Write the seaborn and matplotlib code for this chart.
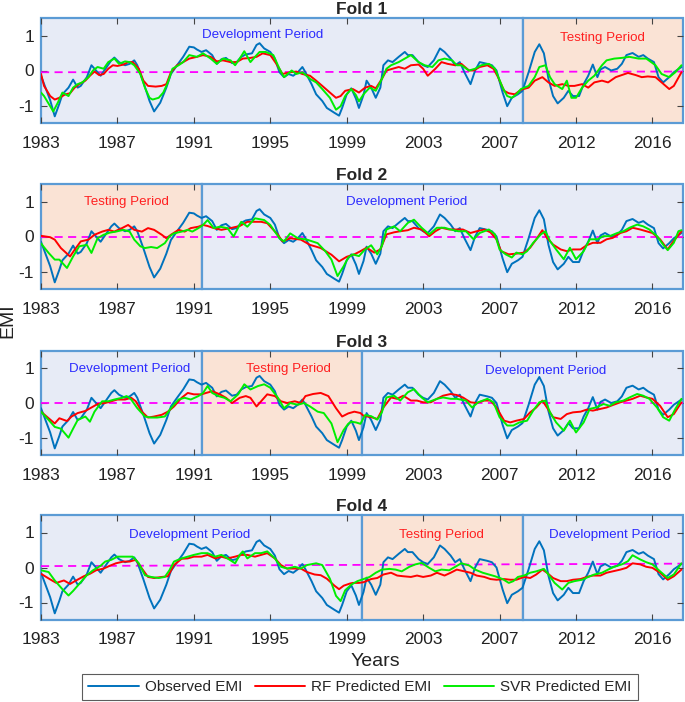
import matplotlib
matplotlib.use("Agg")
import matplotlib.pyplot as plt
from matplotlib.patches import Rectangle
from matplotlib.lines import Line2D
import pandas as pd
import seaborn as sns

sns.set_theme(style="white")
plt.rcParams['font.family'] = ['Liberation Sans', 'DejaVu Sans']

# month index (0 = Jan 1983), tick labels as printed on the chart
tick_months = [0, 50, 100, 150, 200, 250, 300, 350, 400]
tick_labels = ['1983', '1987', '1991', '1995', '1999', '2003', '2007', '2012', '2016']

# observed EMI (same in every fold): (month, value)
observed = [(0, -0.15), (3, -0.5), (6, -0.85), (9, -1.31), (12, -0.95), (14, -0.68), (18, -0.49), (21, -0.26),
            (24, -0.49), (26, -0.44), (30, -0.19), (33, 0.15), (36, 0.0), (39, -0.15), (43, 0.1), (46, 0.29),
            (48, 0.37), (51, 0.24), (55, 0.15), (58, 0.19), (61, 0.29), (63, 0.15), (67, -0.34), (71, -0.87),
            (74, -1.17), (78, -0.92), (82, -0.49), (85, -0.1), (89, 0.15), (93, 0.39), (97, 0.68), (100, 0.66),
            (102, 0.6), (105, 0.53), (108, 0.58), (112, 0.44), (115, 0.19), (118, 0.32), (121, 0.36), (125, 0.21),
            (128, 0.24), (131, 0.39), (134, 0.46), (138, 0.49), (141, 0.73), (143, 0.78), (146, 0.63), (150, 0.53),
            (153, 0.34), (156, -0.05), (159, -0.19), (162, -0.1), (165, -0.15), (168, -0.05), (171, 0.1),
            (173, -0.05), (177, -0.39), (180, -0.68), (184, -0.87), (187, -1.07), (192, -1.21), (195, -1.29),
            (197, -1.07), (200, -0.68), (203, -0.51), (206, -0.8), (208, -1.07), (211, -0.7), (213, -0.29),
            (216, -0.49), (219, -0.78), (222, -0.49), (224, 0.15), (227, 0.29), (230, 0.24), (234, 0.39),
            (238, 0.53), (240, 0.44), (243, 0.44), (247, 0.24), (250, 0.15), (253, 0.1), (257, 0.29), (261, 0.63),
            (264, 0.53), (268, 0.34), (271, 0.15), (274, 0.24), (277, -0.05), (281, -0.39), (284, 0.0), (287, 0.24),
            (292, 0.19), (295, 0.15), (298, 0.0), (302, -0.63), (305, -1.02), (308, -0.78), (312, -0.68),
            (315, -0.58), (319, -0.05), (323, 0.53), (326, 0.75), (329, 0.49), (332, -0.24), (335, -0.73),
            (338, -0.94), (342, -0.78), (345, -0.58), (348, -0.73), (352, -0.73), (355, -0.39), (358, -0.15),
            (361, 0.17), (364, -0.19), (366, 0.03), (369, 0.1), (373, 0.0), (377, 0.05), (380, 0.19), (383, 0.44),
            (387, 0.5), (391, 0.39), (394, 0.44), (397, 0.34), (401, 0.24), (404, -0.19), (407, -0.34),
            (411, -0.19), (414, -0.05), (419, 0.1)]

# fold 1
f1_rf = [(0, -0.1), (2, -0.44), (6, -0.73), (9, -0.83), (12, -0.78), (16, -0.68), (19, -0.65), (22, -0.49),
         (25, -0.39), (29, -0.29), (32, -0.15), (35, -0.03), (38, -0.13), (41, -0.1), (44, 0.05), (47, 0.15),
         (50, 0.13), (54, 0.17), (57, 0.24), (60, 0.24), (64, 0.05), (67, -0.29), (70, -0.44), (75, -0.46),
         (79, -0.44), (82, -0.39), (85, -0.05), (89, 0.15), (93, 0.24), (97, 0.34), (102, 0.39), (106, 0.44),
         (111, 0.39), (115, 0.26), (119, 0.29), (124, 0.24), (128, 0.24), (132, 0.34), (137, 0.36), (141, 0.39),
         (145, 0.49), (150, 0.44), (154, 0.19), (158, -0.1), (163, -0.05), (167, -0.03), (171, -0.1),
         (176, -0.15), (180, -0.29), (184, -0.44), (189, -0.63), (193, -0.78), (196, -0.73), (199, -0.58),
         (204, -0.53), (208, -0.63), (212, -0.49), (216, -0.44), (219, -0.51), (223, -0.24), (226, 0.0),
         (230, 0.05), (234, 0.1), (238, 0.05), (242, 0.15), (247, 0.17), (250, 0.05), (253, -0.15), (258, 0.05),
         (262, 0.24), (266, 0.19), (271, 0.15), (275, 0.19), (280, 0.0), (283, 0.0), (287, 0.1), (292, 0.15),
         (296, 0.05), (299, -0.19), (303, -0.58), (306, -0.65), (310, -0.68), (314, -0.55), (319, -0.49),
         (323, -0.29), (328, -0.19), (332, -0.34), (336, -0.44), (341, -0.39), (345, -0.44), (349, -0.44),
         (354, -0.39), (358, -0.49), (362, -0.34), (367, -0.29), (371, -0.34), (376, -0.19), (380, -0.13),
         (384, -0.07), (389, -0.13), (393, -0.19), (397, -0.17), (402, -0.19), (406, -0.34), (411, -0.53),
         (414, -0.44), (419, -0.05)]
f1_svr = [(0, -0.63), (2, -0.73), (6, -1.02), (8, -1.17), (11, -0.92), (14, -0.63), (18, -0.73), (21, -0.49),
          (24, -0.39), (27, -0.34), (31, -0.19), (34, 0.0), (37, 0.1), (41, 0.05), (44, 0.24), (48, 0.34),
          (51, 0.19), (55, 0.26), (58, 0.24), (61, 0.15), (65, -0.1), (68, -0.49), (71, -0.78), (73, -0.83),
          (77, -0.78), (80, -0.63), (83, -0.34), (86, 0.05), (90, 0.15), (93, 0.24), (97, 0.44), (102, 0.39),
          (106, 0.49), (111, 0.34), (115, 0.19), (119, 0.34), (124, 0.29), (127, 0.15), (130, 0.34), (133, 0.55),
          (137, 0.24), (140, 0.39), (143, 0.53), (147, 0.53), (152, 0.44), (156, 0.05), (159, -0.19), (164, 0.0),
          (167, -0.1), (171, -0.05), (176, -0.24), (180, -0.34), (184, -0.53), (189, -0.78), (193, -1.12),
          (196, -1.02), (199, -0.73), (203, -0.53), (206, -0.7), (208, -0.88), (211, -0.68), (215, -0.49),
          (219, -0.58), (223, -0.24), (226, 0.05), (229, 0.15), (234, 0.24), (238, 0.34), (242, 0.44),
          (247, 0.24), (251, 0.15), (256, 0.1), (260, 0.29), (264, 0.34), (269, 0.29), (272, 0.15), (275, 0.15),
          (280, 0.0), (284, 0.05), (288, 0.15), (293, 0.19), (297, 0.05), (302, -0.49), (305, -0.73),
          (308, -0.78), (311, -0.68), (314, -0.53), (319, -0.44), (323, -0.19), (326, 0.1), (330, 0.15),
          (333, -0.19), (336, -0.39), (341, -0.53), (344, -0.29), (347, -0.78), (350, -0.78), (354, -0.49),
          (358, -0.29), (362, -0.15), (367, 0.15), (370, 0.29), (375, 0.34), (380, 0.36), (385, 0.39),
          (391, 0.34), (396, 0.34), (402, 0.15), (406, -0.1), (411, -0.19), (415, -0.05), (419, 0.15)]

# fold 2
f2_rf = [(0, 0.02), (6, -0.02), (9, -0.09), (13, -0.33), (19, -0.57), (22, -0.38), (26, -0.14), (31, -0.09),
         (35, 0.05), (40, 0.14), (44, 0.19), (48, 0.14), (53, 0.24), (57, 0.33), (61, 0.19), (66, 0.14),
         (70, 0.24), (74, 0.19), (79, 0.05), (82, -0.05), (85, 0.05), (90, 0.19), (94, 0.14), (98, 0.24),
         (103, 0.28), (106, 0.33), (109, 0.3), (113, 0.24), (118, 0.19), (124, 0.24), (130, 0.3), (135, 0.42),
         (144, 0.42), (148, 0.38), (155, 0.05), (158, -0.14), (163, -0.05), (170, -0.09), (176, -0.24),
         (183, -0.33), (190, -0.52), (195, -0.71), (200, -0.58), (205, -0.51), (209, -0.42), (213, -0.32),
         (218, -0.46), (222, -0.37), (226, 0.06), (231, 0.12), (235, 0.15), (240, 0.18), (244, 0.25), (249, 0.2),
         (254, 0.01), (258, 0.15), (262, 0.25), (267, 0.2), (271, 0.2), (276, 0.2), (281, 0.1), (285, 0.15),
         (290, 0.2), (294, 0.12), (298, -0.08), (301, -0.42), (306, -0.51), (311, -0.49), (316, -0.46),
         (320, -0.32), (324, -0.08), (328, 0.18), (331, -0.04), (335, -0.23), (340, -0.37), (344, -0.42),
         (348, -0.37), (353, -0.37), (357, -0.25), (361, -0.18), (366, -0.18), (370, -0.08), (374, -0.04),
         (379, 0.1), (383, 0.15), (387, 0.25), (392, 0.2), (396, 0.15), (400, 0.1), (405, -0.08), (410, -0.37),
         (413, -0.18), (419, 0.15)]
f2_svr = [(0, -0.2), (5, -0.47), (9, -0.66), (12, -0.66), (17, -0.9), (21, -0.57), (25, -0.28), (30, -0.24),
          (33, -0.47), (37, -0.05), (41, 0.05), (45, 0.11), (49, 0.14), (54, 0.19), (58, 0.14), (61, -0.09),
          (65, -0.28), (68, -0.33), (72, -0.3), (76, -0.33), (81, -0.19), (84, 0.0), (87, 0.09), (92, 0.14),
          (96, 0.19), (99, 0.14), (103, 0.24), (106, 0.33), (109, 0.47), (113, 0.24), (117, 0.28), (122, 0.24),
          (126, 0.0), (131, 0.42), (135, 0.28), (140, 0.52), (146, 0.47), (150, 0.33), (156, -0.05),
          (159, -0.14), (163, 0.09), (168, -0.05), (174, -0.09), (181, -0.19), (186, -0.42), (190, -0.66),
          (194, -1.13), (198, -0.85), (201, -0.6), (204, -0.51), (208, -0.56), (212, -0.37), (216, -0.25),
          (220, -0.51), (223, -0.27), (226, 0.2), (231, 0.29), (235, 0.15), (240, 0.39), (244, 0.48), (249, 0.25),
          (254, 0.06), (259, 0.25), (264, 0.25), (268, 0.2), (273, 0.15), (278, 0.15), (283, -0.08), (287, 0.1),
          (293, 0.2), (297, 0.06), (300, -0.37), (304, -0.51), (308, -0.6), (311, -0.46), (315, -0.51),
          (318, -0.42), (322, -0.18), (327, 0.06), (330, 0.15), (333, -0.13), (337, -0.37), (342, -0.65),
          (346, -0.32), (350, -0.65), (355, -0.42), (359, -0.08), (364, -0.08), (368, 0.01), (372, 0.01),
          (377, 0.1), (381, 0.15), (385, 0.25), (390, 0.34), (394, 0.29), (398, 0.2), (403, 0.01), (407, -0.23),
          (410, -0.39), (414, -0.18), (417, 0.15), (419, 0.18)]

# fold 3
f3_rf = [(0, -0.25), (5, -0.44), (9, -0.59), (12, -0.44), (17, -0.52), (20, -0.39), (24, -0.29), (29, -0.23),
         (33, -0.13), (37, -0.03), (42, 0.0), (46, 0.05), (50, 0.1), (55, 0.1), (59, 0.15), (62, 0.05),
         (66, -0.25), (70, -0.42), (74, -0.39), (79, -0.34), (83, -0.25), (87, -0.1), (92, 0.15), (96, 0.29),
         (100, 0.25), (105, 0.25), (108, 0.29), (112, 0.34), (117, 0.25), (121, 0.15), (125, 0.0), (130, 0.15),
         (134, 0.2), (137, 0.15), (141, -0.1), (144, 0.05), (148, 0.25), (153, 0.2), (157, 0.05), (161, 0.0),
         (166, 0.05), (170, 0.0), (173, 0.2), (178, 0.26), (183, 0.29), (188, 0.2), (193, -0.15), (197, -0.39),
         (201, -0.3), (205, -0.25), (209, -0.29), (211, -0.37), (216, -0.41), (220, -0.46), (224, -0.13),
         (229, 0.16), (233, 0.12), (237, 0.21), (242, 0.07), (246, 0.07), (250, 0.02), (255, 0.02), (259, 0.12),
         (263, 0.21), (268, 0.26), (272, 0.23), (276, 0.16), (281, 0.02), (285, 0.0), (290, 0.07), (294, 0.07),
         (298, -0.13), (303, -0.51), (307, -0.56), (311, -0.51), (316, -0.46), (320, -0.27), (324, -0.13),
         (328, 0.07), (331, -0.13), (335, -0.41), (340, -0.46), (344, -0.32), (348, -0.27), (353, -0.25),
         (357, -0.19), (361, -0.22), (366, -0.17), (370, -0.13), (374, -0.06), (379, 0.02), (383, 0.07),
         (387, 0.12), (392, 0.21), (396, 0.16), (400, 0.12), (405, -0.08), (410, -0.41), (414, -0.32),
         (419, 0.02)]
f3_svr = [(0, -0.25), (5, -0.49), (9, -0.69), (13, -0.74), (18, -1.0), (21, -0.74), (24, -0.49), (29, -0.39),
          (32, -0.54), (35, -0.25), (40, 0.05), (44, 0.05), (48, 0.1), (53, 0.15), (56, 0.2), (59, 0.1),
          (63, -0.15), (68, -0.39), (72, -0.42), (76, -0.42), (81, -0.39), (85, -0.15), (90, 0.1), (94, 0.15),
          (98, 0.1), (103, 0.2), (106, 0.29), (109, 0.49), (112, 0.29), (116, 0.2), (120, 0.15), (124, 0.05),
          (129, 0.25), (133, 0.54), (137, 0.39), (142, 0.49), (146, 0.54), (150, 0.44), (155, 0.15), (159, -0.15),
          (163, 0.0), (168, -0.05), (172, 0.0), (176, -0.1), (181, -0.25), (185, -0.29), (190, -0.59),
          (194, -1.13), (198, -0.78), (201, -0.6), (203, -0.54), (206, -0.56), (209, -0.6), (212, -0.35),
          (216, -0.38), (220, -0.48), (223, -0.27), (226, 0.16), (231, 0.21), (235, 0.07), (240, 0.31), (244, 0.4),
          (249, 0.16), (253, 0.02), (259, 0.12), (263, 0.16), (268, 0.12), (272, 0.12), (278, 0.07), (282, -0.13),
          (286, 0.02), (292, 0.12), (296, 0.02), (300, -0.41), (305, -0.65), (309, -0.65), (313, -0.56),
          (318, -0.51), (322, -0.22), (326, 0.02), (330, 0.07), (333, -0.27), (337, -0.56), (342, -0.8),
          (346, -0.51), (350, -0.85), (355, -0.56), (359, -0.17), (363, -0.13), (368, -0.03), (372, -0.08),
          (376, 0.02), (381, 0.07), (385, 0.16), (390, 0.26), (394, 0.21), (398, 0.12), (403, -0.13),
          (407, -0.41), (411, -0.51), (415, -0.17), (419, 0.12)]

# fold 4
f4_rf = [(0, -0.18), (6, -0.34), (10, -0.44), (15, -0.37), (19, -0.47), (23, -0.37), (28, -0.25), (32, -0.18),
         (36, -0.08), (41, -0.03), (45, 0.05), (49, 0.12), (54, 0.17), (58, 0.17), (62, 0.22), (66, -0.03),
         (70, -0.27), (74, -0.3), (79, -0.27), (83, -0.25), (87, 0.07), (92, 0.25), (96, 0.26), (100, 0.31),
         (105, 0.31), (109, 0.36), (114, 0.26), (118, 0.31), (122, 0.26), (127, 0.31), (131, 0.36), (135, 0.36),
         (140, 0.31), (144, 0.36), (148, 0.41), (153, 0.26), (157, 0.07), (161, -0.03), (166, -0.03),
         (170, -0.03), (174, -0.13), (179, -0.2), (183, -0.22), (187, -0.32), (192, -0.52), (195, -0.62),
         (198, -0.52), (202, -0.46), (204, -0.44), (208, -0.44), (211, -0.42), (216, -0.33), (220, -0.3),
         (224, -0.2), (229, -0.15), (233, -0.23), (237, -0.25), (242, -0.27), (246, -0.23), (250, -0.27),
         (255, -0.23), (259, -0.15), (264, -0.23), (268, -0.15), (272, -0.06), (277, -0.11), (281, -0.15),
         (285, -0.23), (290, -0.27), (294, -0.33), (298, -0.35), (303, -0.33), (307, -0.35), (311, -0.35),
         (316, -0.27), (320, -0.3), (324, -0.2), (328, -0.06), (331, -0.15), (335, -0.3), (340, -0.39),
         (344, -0.39), (348, -0.35), (353, -0.33), (357, -0.27), (361, -0.23), (366, -0.23), (370, -0.15),
         (374, -0.11), (379, -0.06), (383, -0.01), (387, 0.12), (392, 0.09), (396, 0.02), (400, -0.01),
         (405, -0.15), (410, -0.35), (414, -0.25), (419, -0.06)]
f4_svr = [(0, -0.08), (5, -0.13), (9, -0.37), (14, -0.62), (18, -0.8), (21, -0.67), (25, -0.47), (30, -0.22),
          (34, -0.08), (39, 0.05), (42, 0.17), (46, 0.22), (50, 0.31), (56, 0.31), (60, 0.31), (64, 0.12),
          (68, -0.22), (72, -0.27), (77, -0.3), (81, -0.27), (84, -0.08), (87, 0.17), (92, 0.26), (96, 0.31),
          (100, 0.36), (105, 0.41), (109, 0.41), (114, 0.31), (118, 0.36), (122, 0.26), (127, 0.12), (130, 0.36),
          (132, 0.46), (135, 0.26), (140, 0.41), (144, 0.41), (148, 0.46), (153, 0.26), (157, 0.02), (161, -0.03),
          (166, 0.02), (170, -0.03), (174, 0.07), (180, 0.12), (184, 0.07), (189, -0.32), (193, -0.81),
          (196, -0.96), (199, -0.65), (203, -0.49), (207, -0.39), (211, -0.33), (215, -0.27), (219, -0.15),
          (223, -0.06), (228, -0.04), (232, -0.06), (236, -0.11), (241, 0.02), (245, 0.09), (249, 0.13),
          (254, -0.01), (258, -0.11), (262, -0.06), (267, -0.08), (271, 0.02), (275, 0.12), (280, 0.06),
          (284, -0.06), (289, -0.15), (293, -0.2), (297, -0.25), (302, -0.33), (306, -0.44), (309, -0.39),
          (312, -0.27), (316, -0.23), (320, -0.15), (324, -0.11), (329, -0.04), (332, -0.2), (336, -0.44),
          (341, -0.63), (345, -0.44), (349, -0.39), (354, -0.35), (358, -0.27), (362, -0.2), (367, -0.15),
          (371, -0.06), (375, 0.02), (380, 0.09), (384, 0.18), (387, 0.35), (392, 0.23), (396, 0.15), (400, 0.09),
          (405, -0.11), (410, -0.3), (414, -0.2), (419, 0.12)]

fold_titles = ['Fold 1', 'Fold 2', 'Fold 3', 'Fold 4']
fold_rf = [f1_rf, f2_rf, f3_rf, f4_rf]
fold_svr = [f1_svr, f2_svr, f3_svr, f4_svr]
# (start month, end month, kind)
fold_periods = [
    [(0, 315, 'dev'), (315, 420, 'test')],
    [(0, 105, 'test'), (105, 420, 'dev')],
    [(0, 105, 'dev'), (105, 210, 'test'), (210, 420, 'dev')],
    [(0, 210, 'dev'), (210, 315, 'test'), (315, 420, 'dev')],
]
# period label positions (month, value, kind)
fold_labels = [
    [(145, 1.02, 'dev'), (367, 0.92, 'test')],
    [(56, 1.0, 'test'), (239, 1.0, 'dev')],
    [(58, 0.99, 'dev'), (162, 0.99, 'test'), (330, 0.93, 'dev')],
    [(97, 0.93, 'dev'), (262, 0.93, 'test'), (372, 0.93, 'dev')],
]
# dashed reference line level at start / end of each panel
ref_start = [-0.05, 0.0, 0.0, 0.04]
ref_end = [-0.03, 0.0, 0.0, 0.11]

OBS_C = '#0072BD'
RF_C = '#FF0000'
SVR_C = '#00EE00'
face = {'dev': '#E7EBF6', 'test': '#FAE3D5'}
label_c = {'dev': '#2B2BFF', 'test': '#FF2020'}
label_txt = {'dev': 'Development Period', 'test': 'Testing Period'}
EDGE_C = '#5B9BD5'

W, H = 685, 702
fig = plt.figure(figsize=(W / 100, H / 100), dpi=100)
panel_px = [(18, 123), (184, 289), (351, 455), (515, 620)]

obs_df = pd.DataFrame(observed, columns=['month', 'emi'])

for i, (top, bot) in enumerate(panel_px):
    ax = fig.add_axes([41 / W, 1 - bot / H, 642 / W, (bot - top) / H])
    for s, e, kind in fold_periods[i]:
        ax.add_patch(Rectangle((s, 0), e - s, 1, transform=ax.get_xaxis_transform(),
                               facecolor=face[kind], edgecolor=EDGE_C, lw=1.6,
                               clip_on=False, zorder=0))
    ax.plot([0, 420], [ref_start[i], ref_end[i]], color='#FF00FF', lw=1.3,
            linestyle=(0, (4.5, 3)), zorder=1)
    rf_df = pd.DataFrame(fold_rf[i], columns=['month', 'emi'])
    svr_df = pd.DataFrame(fold_svr[i], columns=['month', 'emi'])
    sns.lineplot(data=obs_df, x='month', y='emi', ax=ax, color=OBS_C, lw=1.4, estimator=None, zorder=2)
    sns.lineplot(data=rf_df, x='month', y='emi', ax=ax, color=RF_C, lw=1.4, estimator=None, zorder=3)
    sns.lineplot(data=svr_df, x='month', y='emi', ax=ax, color=SVR_C, lw=1.4, estimator=None, zorder=4)
    for m, v, kind in fold_labels[i]:
        ax.text(m, v, label_txt[kind], color=label_c[kind], fontsize=9.6,
                ha='center', va='center', zorder=5)

    ax.set_xlim(0, 420)
    ax.set_ylim(-1.5, 1.5)
    ax.set_xticks(tick_months)
    ax.set_xticklabels(tick_labels)
    ax.set_yticks([-1, 0, 1])
    ax.set_yticklabels(['-1', '0', '1'])
    ax.set_xlabel('')
    ax.set_ylabel('')
    ax.tick_params(axis='x', direction='in', top=True, bottom=True, length=4, width=0.8,
                   color='#444444', labelsize=12.5, pad=9, labelcolor='#222222')
    ax.tick_params(axis='y', direction='in', left=True, right=True, length=4, width=0.8,
                   color='#444444', labelsize=12.5, pad=5, labelcolor='#222222')
    for sp in ax.spines.values():
        sp.set_visible(False)
    ax.set_title(fold_titles[i], fontsize=12.5, fontweight='bold', pad=3)

fig.text(8 / W, 1 - 321 / H, 'EMI', rotation=90, ha='center', va='center', fontsize=14, color='#222222')
fig.text(375 / W, 1 - 662 / H, 'Years', ha='center', va='center', fontsize=14, color='#222222')

handles = [Line2D([], [], color=OBS_C, lw=1.4), Line2D([], [], color=RF_C, lw=1.4),
           Line2D([], [], color=SVR_C, lw=1.4)]
leg = fig.legend(handles, ['Observed EMI', 'RF Predicted EMI', 'SVR Predicted EMI'],
                 loc='lower center', bbox_to_anchor=(360 / W, 2 / H), ncol=3, fontsize=11,
                 frameon=True, fancybox=False, edgecolor='#333333', handlelength=3.3,
                 handletextpad=0.4, columnspacing=0.8, borderpad=0.4, borderaxespad=0)
leg.get_frame().set_linewidth(0.8)

fig.savefig('out.png', dpi=100, facecolor='white')
